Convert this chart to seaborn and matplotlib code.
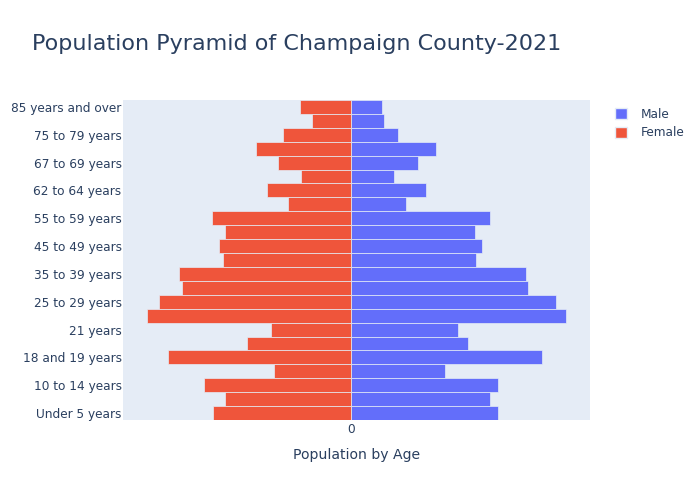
import pandas as pd
import matplotlib
matplotlib.use("Agg")
import matplotlib.pyplot as plt
from matplotlib.patches import Patch
import seaborn as sns

# age groups, bottom to top
ages = ["Under 5 years", "5 to 9 years", "10 to 14 years", "15 to 17 years",
        "18 and 19 years", "20 years", "21 years", "22 to 24 years",
        "25 to 29 years", "30 to 34 years", "35 to 39 years", "40 to 44 years",
        "45 to 49 years", "50 to 54 years", "55 to 59 years", "60 and 61 years",
        "62 to 64 years", "65 and 66 years", "67 to 69 years", "70 to 74 years",
        "75 to 79 years", "80 to 84 years", "85 years and over"]

male = [5880, 5550, 5870, 3750, 7640, 4680, 4260, 8600, 8190, 7070, 7000, 4980,
        5230, 4950, 5560, 2190, 2990, 1720, 2680, 3390, 1860, 1300, 1240]
female = [5540, 5050, 5890, 3100, 7340, 4180, 3220, 8180, 7680, 6780, 6900, 5130,
          5280, 5060, 5570, 2520, 3380, 2000, 2920, 3820, 2740, 1560, 2050]

TEXT = "#2a3f5f"
BG = "#E5ECF6"
colors = {"Male": "#636EFA", "Female": "#EF553B"}

df = pd.DataFrame({
    "age": ages * 2,
    "pop": male + [-v for v in female],
    "sex": ["Male"] * len(ages) + ["Female"] * len(ages),
})

sns.set_style("white")
plt.rcParams["font.family"] = ["DejaVu Sans"]

fig = plt.figure(figsize=(7, 5), dpi=100)
ax = fig.add_axes([123 / 700, 80 / 500, 467 / 700, 320 / 500])
ax.set_facecolor(BG)

sns.barplot(data=df, x="pop", y="age", hue="sex", order=ages[::-1],
            hue_order=["Male", "Female"], palette=colors, dodge=False,
            saturation=1, width=1, orient="h", errorbar=None, edgecolor=BG,
            linewidth=0.5, legend=False, ax=ax)

ax.set_xlim(-228 * 40, 239 * 40)
ax.set_ylim(22.5, -0.5)
ax.set_xticks([0])
ax.set_xticklabels(["0"])
ax.set_yticks(range(0, 23, 2))
ax.set_yticklabels(ages[::-1][::2])
ax.tick_params(length=0, colors=TEXT, labelsize=8.7)
ax.tick_params(axis="y", pad=1)
ax.tick_params(axis="x", pad=2)
for s in ax.spines.values():
    s.set_visible(False)
ax.set_ylabel("")
ax.set_xlabel("Population by Age", color=TEXT, fontsize=10.1, labelpad=9)

fig.text(32 / 700, 1 - 44 / 500, "Population Pyramid of Champaign County-2021",
         fontsize=16, color=TEXT, va="center", ha="left")

handles = [Patch(facecolor=colors[k], edgecolor=BG, label=k) for k in ["Male", "Female"]]
leg = fig.legend(handles=handles, loc="upper left",
                 bbox_to_anchor=(604 / 700, 1 - 97 / 500), frameon=False,
                 handlelength=1.0, handleheight=1.0, handletextpad=1.1,
                 labelspacing=0.45, fontsize=8.7)
for t in leg.get_texts():
    t.set_color(TEXT)

fig.savefig("out.png", dpi=100)
